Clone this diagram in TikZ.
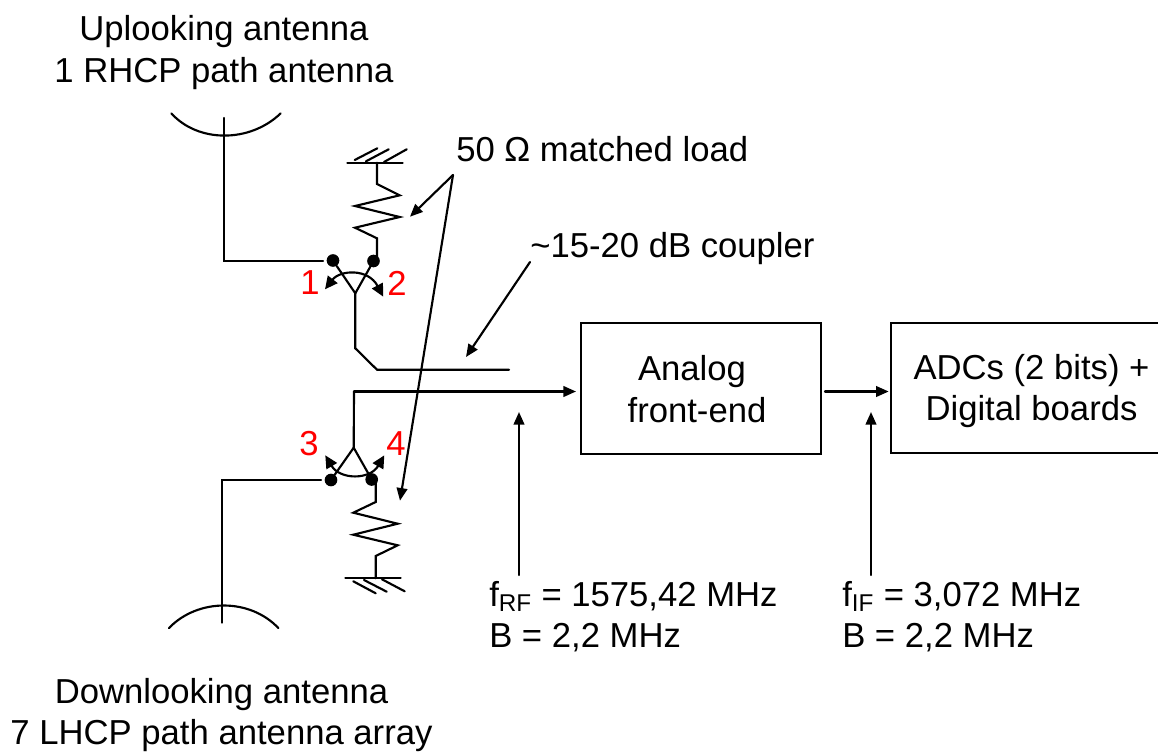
\documentclass[tikz,border=0pt]{standalone}
\usepackage{fontspec}
\setmainfont{Liberation Sans}
\usetikzlibrary{arrows.meta}
\tikzset{
  wire/.style={line width=1.6pt,black,line cap=round,line join=miter},
  arr/.style={wire,-{Triangle[length=9.5pt,width=8pt]}},
  swarr/.style={wire,{Triangle[length=9.5pt,width=9pt]}-{Triangle[length=9.5pt,width=9pt]}},
  lab/.style={inner sep=0pt,font=\fontsize{26pt}{31pt}\selectfont,align=center,text=black},
  sub/.style={inner sep=0pt,font=\fontsize{26pt}{31pt}\selectfont,align=left,text=black},
  num/.style={inner sep=0pt,font=\fontsize{26pt}{31pt}\selectfont,text=red},
  blk/.style={draw,line width=1.5pt,inner sep=0pt},
  dot/.style={circle,fill=black,inner sep=0pt,minimum size=9.5pt}
}
\begin{document}
\begin{tikzpicture}[x=0.75pt,y=-0.75pt]
\useasboundingbox (0,0) rectangle (1158,751);
% labels
\node[lab] (uptxt) at (224,52.5) {Uplooking antenna\\1 RHCP path antenna};
\node[lab,font=\fontsize{26pt}{30.5pt}\selectfont] (dntxt) at (221.5,715) {Downlooking antenna\\7 LHCP path antenna array};
\node[lab,anchor=west] (load) at (456,149) {50 Ω matched load};
\node[lab,anchor=west] (coupl) at (530,248.5) {\textasciitilde15-20 dB coupler};
\node[sub,anchor=north west] (rf) at (489,581) {f\textsubscript{RF} = 1575,42 MHz\\B = 2,2 MHz};
\node[sub,anchor=north west] (if) at (842,581) {f\textsubscript{IF} = 3,072 MHz\\B = 2,2 MHz};
% blocks
\node[blk,minimum width=180pt,minimum height=98pt] (afe) at (701,388.5) {};
\node[lab] (afetxt) at (697,389) {Analog\hspace{7.5pt}\mbox{}\\front-end};
\node[blk,minimum width=204pt,minimum height=97.5pt,anchor=west] (adc) at (890,388) {};
\node[lab] (adctxt) at (1031.5,391) {ADCs (2 bits) +\\Digital boards};
% upper antenna
\draw[wire] (171.3,113.3) .. controls (198,143) and (250,143) .. (280.7,113.3);
\coordinate (a1) at (224,118);
\coordinate (a1b) at (224,261);
\coordinate (a1e) at (323,261);
\draw[wire] (a1) -- (a1b) -- (a1e);
\node[dot] (d1) at (333,260.5) {};
\node[dot] (d2) at (373.5,261) {};
\coordinate (ap1) at (355.3,293.3);
\draw[wire] (d1) -- (ap1) -- (d2);
\coordinate (kn1) at (355.3,348.3);
\coordinate (kn2) at (377,369.7);
\coordinate (cend) at (509,369.7);
\draw[wire] (ap1) -- (kn1) -- (kn2) -- (cend);
\draw[swarr] (325,289.3) .. controls (340,270) and (368,268) .. (383.3,296.7);
\node[num] (n1) at (310,283) {1};
\node[num] (n2) at (397,283) {2};
% upper resistor
\coordinate (g1a) at (347.3,162.7);
\coordinate (g1b) at (402.7,162.7);
\draw[wire] (g1a) -- (g1b);
\draw[wire] (354.7,160) -- (377.3,148.3) (366,161.3) -- (388.7,149.3) (384,162) -- (406.7,149.3);
\draw[wire] (377,162.7) -- (377,184) -- (399.7,195.3) -- (355,206) -- (399.7,217) -- (355,227.7) -- (377,238.3) -- (377,257);
% lower antenna
\draw[wire] (169,628) .. controls (198,598) and (250,598) .. (278.3,628);
\coordinate (a2) at (222,622.7);
\coordinate (a2b) at (222,480);
\coordinate (a2e) at (321,480);
\draw[wire] (a2) -- (a2b) -- (a2e);
\node[dot] (d3) at (331,480) {};
\node[dot] (d4) at (371.7,479.5) {};
\coordinate (ap2) at (353.7,447.7);
\draw[wire] (d3) -- (ap2) -- (d4);
\coordinate (kn3) at (354,391.5);
\draw[wire] (ap2) -- (kn3);
\draw[arr] (kn3) -- ([xshift=-3pt]afe.west |- kn3);
\draw[swarr] (325.3,455.3) .. controls (340,480) and (370,480) .. (384.3,455.3);
\node[num] (n3) at (309,444) {3};
\node[num] (n4) at (396,444) {4};
% lower resistor
\draw[wire] (345.3,578.3) -- (400.7,578.3);
\draw[wire] (353.3,581.3) -- (375.7,593.3) (364,580) -- (386.7,591.7) (382,579.3) -- (404.7,591.3);
\draw[wire] (375.7,483) -- (375.7,502) -- (353.3,512.7) -- (397.7,523.7) -- (353.3,534.7) -- (397.7,545.3) -- (375.7,556) -- (375.7,578.3);
% callouts
\coordinate (lp) at (453,175);
\draw[arr] (lp) -- (410,216.7);
\draw[arr] (lp) -- (400,500.7);
\coordinate (cp) at (530,262);
\draw[arr] (cp) -- (466,357);
% signal
\coordinate (ifs) at (825,391.5);
\draw[arr] (ifs) -- ([xshift=-1pt]adc.west |- ifs);
\coordinate (r1) at (519,575);
\draw[arr] (r1) -- (519,412);
\coordinate (r2) at (871,575);
\draw[arr] (r2) -- (871,412);
\end{tikzpicture}
\end{document}
